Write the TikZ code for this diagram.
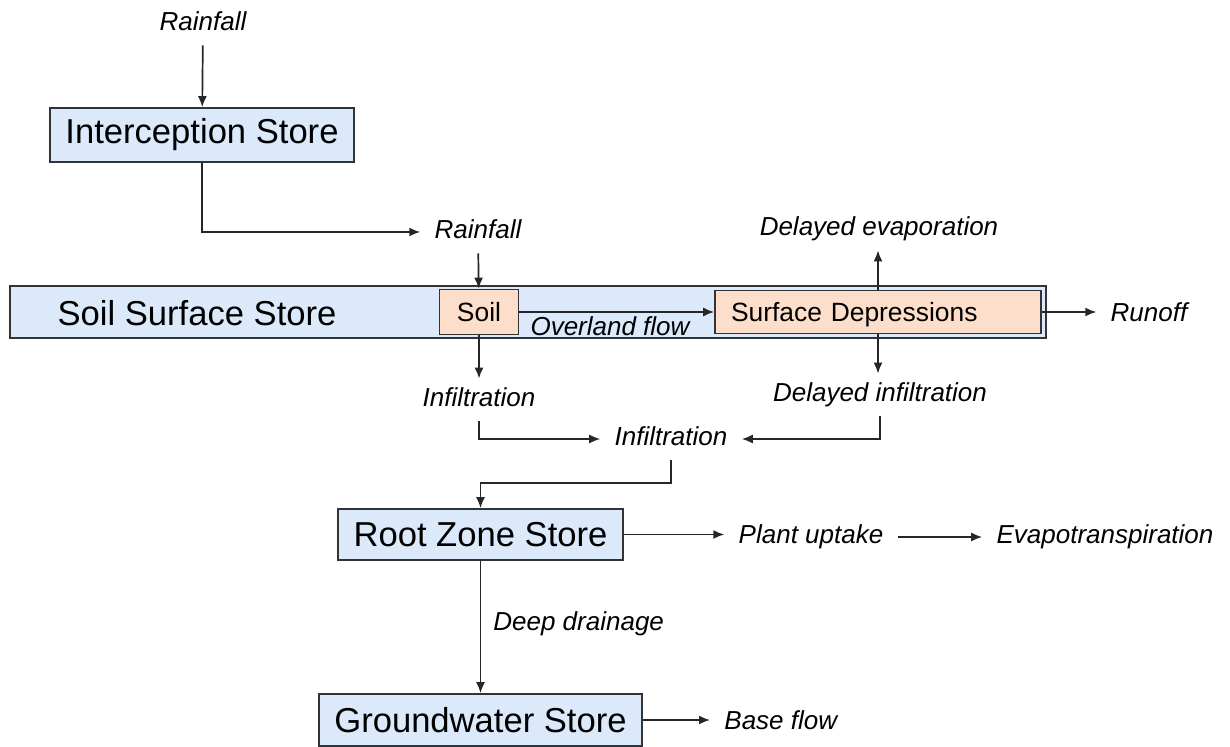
\documentclass[tikz,border=0pt]{standalone}
\usepackage{fontspec}
\setmainfont{Liberation Sans}
\usepackage{tikz}
\usetikzlibrary{arrows.meta,positioning,calc}
\definecolor{storeblue}{RGB}{219,233,251}
\definecolor{soilpeach}{RGB}{252,222,202}

\begin{document}
\begin{tikzpicture}[
    x=0.5pt,y=-0.5pt,
    store/.style={draw=black!80,line width=0.85pt,fill=storeblue,font=\fontsize{17.3}{20}\selectfont},
    patch/.style={draw=black!80,line width=0.85pt,fill=soilpeach,font=\fontsize{13.2}{16}\selectfont},
    lbl/.style={font=\fontsize{13}{16}\selectfont\itshape,inner xsep=7pt,inner ysep=4.5pt,text height=9.5pt,text depth=2.5pt},
    flow/.style={->,line width=0.85pt,draw=black!85},
    >={Latex[length=5.5pt,width=4.5pt]}
]
\useasboundingbox (0,0) rectangle (1230,747);

% stores
\node[store,minimum width=152pt,minimum height=27pt] (intercept) at (202,135) {Interception Store};
\node[store,minimum width=518pt,minimum height=26pt] (surface) at (528,312) {};
\node[font=\fontsize{17.3}{20}\selectfont] (surfacetxt) at (197,313) {Soil Surface Store};
\node[patch,minimum width=39.5pt,minimum height=22.5pt] (soil) at (479,312) {Soil};
\node[patch,minimum height=21.5pt,text width=147pt,inner xsep=8pt,align=left,text height=9.5pt,text depth=0pt] (depress) at (878,312) {Surface Depressions};
\node[store,minimum width=142.5pt,minimum height=25.5pt] (root) at (480.5,534.5) {Root Zone Store};
\node[store,minimum width=161.5pt,minimum height=26pt] (gw) at (480.5,720) {Groundwater Store};

% flow labels
\node[lbl] (rain1) at (203,24) {Rainfall};
\node[lbl] (rain2) at (478,232) {Rainfall};
\node[lbl] (evap) at (879,229) {Delayed evaporation};
\node[lbl] (runoff) at (1149,315) {Runoff};
\node[lbl] (overland) at (610,329) {Overland flow};
\node[lbl] (infil1) at (479,400) {Infiltration};
\node[lbl] (dinfil) at (880,395) {Delayed infiltration};
\node[lbl] (infil2) at (671,439) {Infiltration};
\node[lbl] (uptake) at (811,537) {Plant uptake};
\node[lbl] (evapot) at (1105,537) {Evapotranspiration};
\node[lbl,anchor=west] (drain) at (479,624) {Deep drainage};
\node[lbl,anchor=west] (base) at (710,722) {Base flow};

% connectors
\draw[flow] (rain1) -- (intercept);
\draw[flow] (intercept.south) |- (rain2.west);
\draw[flow] (rain2) -- (soil);
\draw[flow] (soil.east) -- (depress.west);
\draw[flow] (depress.north) -- (depress.north |- evap.south);
\draw[flow] (depress.south) -- (depress.south |- dinfil.north);
\draw[flow] (depress.east) -- (depress.east -| runoff.west);
\draw[flow] (soil.south) -- (soil.south |- infil1.north);
\draw[flow] (infil1.south) |- (infil2.west);
\draw[flow] (dinfil.south) |- (infil2.east);
\draw[flow] (infil2.south) |- ([yshift=12.5pt]root.north) -- (root.north);
\draw[flow] (root.east) -- (root.east -| uptake.west);
\draw[flow] (uptake.east) -- (evapot.west);
\draw[flow] (root.south) -- (gw.north);
\draw[flow] (gw.east) -- (gw.east -| base.west);
\end{tikzpicture}
\end{document}
